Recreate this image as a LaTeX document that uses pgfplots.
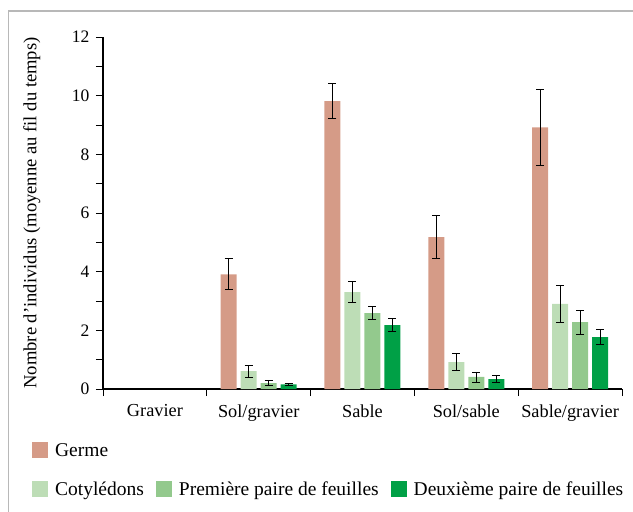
\documentclass[border=0pt]{standalone}
\usepackage{fontspec}
\setmainfont{Liberation Serif}
\usepackage{pgfplots}
\pgfplotsset{compat=1.18}
\definecolor{cGerme}{RGB}{213,155,135}
\definecolor{cCoty}{RGB}{189,221,182}
\definecolor{cPrem}{RGB}{147,201,141}
\definecolor{cDeux}{RGB}{0,160,70}
\begin{document}
\begin{tikzpicture}[x=1pt,y=1pt]
\path[use as bounding box] (0,0) rectangle (633,512);
\draw[color=black!28, line width=1.2pt] (8.6,0) -- (8.6,501) -- (633,501);
\begin{axis}[
  at={(103pt,123pt)}, anchor=south west,
  scale only axis, width=519pt, height=352pt,
  xmin=-0.5, xmax=4.5, ymin=0, ymax=12,
  axis lines*=left,
  axis line style={line width=1.5pt, black},
  tick align=outside,
  major tick length=7pt, minor tick length=7pt,
  tick style={black, line width=0.9pt},
  xtick={-0.5,0.5,...,4.5},
  x tick label as interval,
  xticklabels={Gravier,Sol/gravier,Sable,Sol/sable,Sable/gravier},
  ytick={0,2,...,12}, minor ytick={1,3,...,11},
  /pgf/number format/assume math mode=true,
  xticklabel style={font=\fontsize{18.3}{21}\selectfont, yshift=-5pt},
  yticklabel style={font=\fontsize{17.5}{21}\selectfont, xshift=-3pt},
  ylabel={Nombre d’individus (moyenne au fil du temps)},
  every axis y label/.style={at={(axis description cs:-0.137,0.5)}, rotate=90, anchor=center, font=\fontsize{18.6}{21}\selectfont},
  ybar=4pt, bar width=16pt,
  error bars/y dir=both, error bars/y explicit,
  error bars/error bar style={line width=0.9pt, black},
  error bars/error mark options={rotate=90, mark size=4pt, line width=0.9pt, black},
  legend image code/.code={\fill[#1] (0pt,-8pt) rectangle (16pt,8pt);},
  legend columns=3,
  legend style={at={(axis description cs:-0.137,-0.148)}, anchor=north west,
    draw=none, fill=none, inner sep=0pt,
    font=\fontsize{19.5}{23}\selectfont,
    row sep=20pt,
    /tikz/every odd column/.append style={column sep=5pt},
    /tikz/every even column/.append style={column sep=10pt},
    nodes={inner sep=2pt}},
  legend cell align=left,
]
\addplot[fill=cGerme, draw=none] coordinates {
 (1,3.91) +- (0,0.53)
 (2,9.81) +- (0,0.60)
 (3,5.18) +- (0,0.73)
 (4,8.92) +- (0,1.30)
};
\addlegendentry{Germe}
\addlegendimage{empty legend}\addlegendentry{}
\addlegendimage{empty legend}\addlegendentry{}
\addplot[fill=cCoty, draw=none] coordinates {
 (1,0.61) +- (0,0.20)
 (2,3.30) +- (0,0.36)
 (3,0.92) +- (0,0.30)
 (4,2.90) +- (0,0.63)
};
\addlegendentry{Cotylédons}
\addplot[fill=cPrem, draw=none] coordinates {
 (1,0.20) +- (0,0.08)
 (2,2.59) +- (0,0.23)
 (3,0.41) +- (0,0.17)
 (4,2.28) +- (0,0.41)
};
\addlegendentry{Première paire de feuilles}
\addplot[fill=cDeux, draw=none] coordinates {
 (1,0.16) +- (0,0.03)
 (2,2.18) +- (0,0.22)
 (3,0.34) +- (0,0.12)
 (4,1.77) +- (0,0.25)
};
\addlegendentry{Deuxième paire de feuilles}
\end{axis}
\end{tikzpicture}
\end{document}
